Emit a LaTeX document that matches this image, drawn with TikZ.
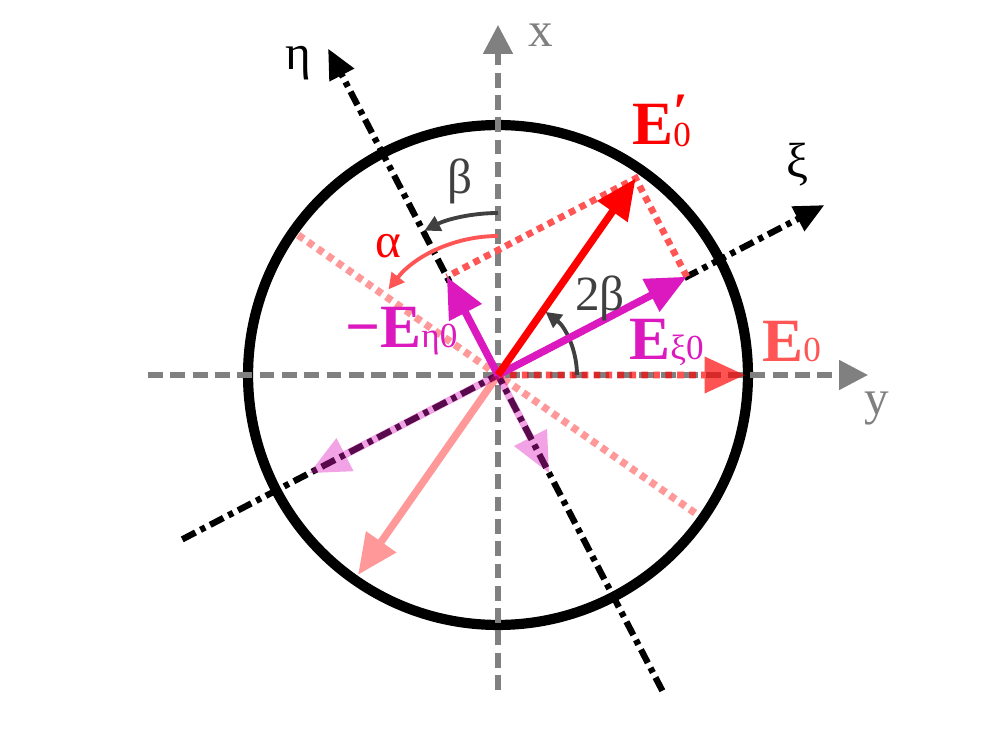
\documentclass[tikz,border=0pt]{standalone}
\usepackage{fontspec}
\setmainfont{Liberation Serif}
\usetikzlibrary{arrows.meta}
\definecolor{axgray}{RGB}{128,128,128}
\definecolor{mag}{RGB}{220,25,190}
\definecolor{lred}{RGB}{255,85,85}
\definecolor{dgray}{RGB}{64,64,64}
\begin{document}
\begin{tikzpicture}[x=0.02cm,y=0.02cm,
  ax/.style={axgray, line width=2.9pt, dash pattern=on 8.5pt off 4.2pt},
  dd/.style={black, line width=3.6pt, dash pattern=on 8.5pt off 3.2pt on 3pt off 3.2pt},
  gtip/.style={-{Triangle[length=16.5pt,width=16.5pt]}},
  btip/.style={-{Triangle[length=17pt,width=15pt]}},
  vec/.style={line width=4.2pt, -{Triangle[length=23pt,width=20pt]}},
  dots/.style={line width=3.8pt, dash pattern=on 3.8pt off 3pt},
  angarc/.style={line width=2.2pt, -{Triangle[length=9pt,width=9pt]}},
  lbl/.style={font=\fontsize{28}{30}\selectfont, inner sep=0pt},
  blbl/.style={font=\fontsize{35}{36}\selectfont\bfseries, inner sep=0pt, anchor=base west},
]
\useasboundingbox (-498,-375) rectangle (502,375);
\def\b{27.5}
\coordinate (O) at (0,0);
% circle
\node[circle, draw, line width=5.8pt, minimum size=10cm, inner sep=0pt] (C) at (O) {};
% perpendicular pink dotted line
\coordinate (P1) at (145:244);
\coordinate (P2) at (-35:244);
\draw[dots, red!40, line width=4.2pt] (P1) -- (P2);
% gray axes
\coordinate (xb) at (0,-315);
\coordinate (xt) at (0,350);
\coordinate (yl) at (-350,0);
\coordinate (yr) at (370,0);
\draw[ax, gtip] (xb) -- (xt);
\draw[ax, gtip] (yl) -- (yr);
% rotated axes
\coordinate (xib) at (180+\b:356);
\coordinate (xit) at (\b:368);
\coordinate (etb) at (\b-90:356);
\coordinate (ett) at (90+\b:368);
\draw[dd, btip] (xib) -- (xit);
\draw[dd, btip] (etb) -- (ett);
% vector tips
\coordinate (E1) at (2*\b:240);
\coordinate (Exi) at (\b:{240*cos(\b)});
\coordinate (Eeta) at (90+\b:{240*sin(\b)});
\coordinate (E0) at (247,0);
\coordinate (mE1) at (180+2*\b:244);
\coordinate (mxi) at (180+\b:{240*cos(\b)});
\coordinate (meta) at (\b-90:{240*sin(\b)});
% projection lines
\draw[dots, lred] (Exi) -- (E1) -- (Eeta);
% E0
\begin{scope}[transparency group, opacity=0.68]
\draw[vec, dots, red] (O) -- (E0);
\end{scope}
% transparent reflected vectors
\begin{scope}[transparency group, opacity=0.4]
\draw[vec, red] (O) -- (mE1);
\end{scope}
\begin{scope}[transparency group, opacity=0.4]
\draw[vec, mag] (O) -- (mxi);
\end{scope}
\begin{scope}[transparency group, opacity=0.4]
\draw[vec, mag] (O) -- (meta);
\end{scope}
% angle arcs
\coordinate (bs) at (90:162);
\coordinate (as) at (90:139);
\coordinate (ts) at (0:79);
\draw[angarc, dgray] (bs) arc[start angle=90, end angle=117, radius=162];
\draw[angarc, lred] (as) arc[start angle=90, end angle=142, radius=139];
\draw[angarc, dgray] (ts) arc[start angle=0, end angle=53, radius=79];
% solid vectors
\draw[vec, mag] (O) -- (Exi);
\draw[vec, mag] (O) -- (Eeta);
\draw[vec, red] (O) -- (E1);
% labels
\node[lbl, axgray] (lx) at (43,340) {x};
\node[lbl, axgray] (ly) at (379,-34) {y};
\node[lbl] (leta) at (-200,312) {η};
\node[lbl] (lxi) at (299,210) {ξ};
\node[lbl, dgray] (lb) at (-38,194) {β};
\node[lbl, red] (la) at (-110,129) {α};
\node[lbl, dgray] (l2b) at (102,77) {2β};
\node[blbl, red] (lE1) at (134,230) {E\raisebox{-0.02em}{\fontsize{20}{20}\selectfont\mdseries\shortstack[l]{\fontsize{30}{30}\selectfont\bfseries ′\\[-0.35em]0}}};
\node[blbl, lred] (lE0) at (264,13) {E\fontsize{20}{20}\selectfont\mdseries 0};
\node[blbl, mag] (lExi) at (131,15) {E\fontsize{20}{20}\selectfont\mdseries ξ0};
\node[blbl, mag] (lEeta) at (-153,28) {−E\fontsize{20}{20}\selectfont\mdseries η0};
\end{tikzpicture}
\end{document}
